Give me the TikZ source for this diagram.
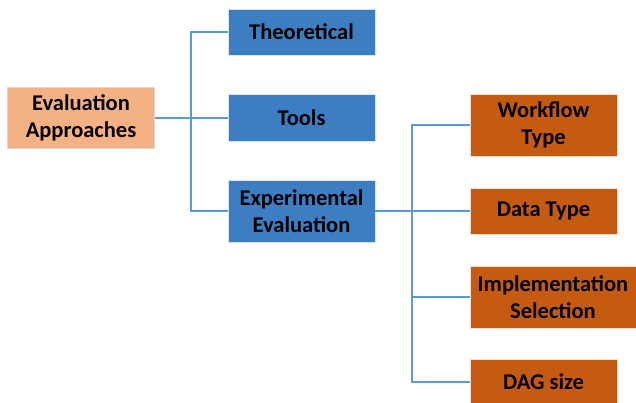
\documentclass[tikz,border=0pt]{standalone}
\usepackage{fontspec}
\setmainfont{Carlito}
\usepackage{tikz}

\definecolor{rootfill}{HTML}{F4B183}
\definecolor{branchfill}{HTML}{3D7DC2}
\definecolor{leaffill}{HTML}{C55A11}
\definecolor{linkcol}{HTML}{5B9BD5}

\begin{document}
\begin{tikzpicture}[
      x=1pt, y=-1pt,
      box/.style={inner sep=0pt,align=center,text=black,
        font=\fontsize{22.5}{26.5}\selectfont\bfseries},
      root/.style={box,fill=rootfill,draw=black!15,line width=0.8pt,
        minimum width=147pt,minimum height=61pt},
      branch/.style={box,fill=branchfill,draw=white!80!branchfill,line width=0.8pt,
        minimum width=147pt},
      leaf/.style={box,fill=leaffill,draw=white!80!leaffill,line width=0.8pt,
        minimum width=147pt},
      link/.style={linkcol,line width=1.2pt}
    ]
    \useasboundingbox (0,0) rectangle (636,403);
    % Draw the root.
    \node[root] (approach) at (81,118) {Evaluation\\Approaches};
    % Draw the first level.
    \node[branch,minimum height=46pt] (theo) at (301.5,32) {Theoretical};
    \node[branch,minimum height=47pt] (tools) at (301.5,118) {Tools};
    \node[branch,minimum height=62pt] (exper) at (301.5,211) {Experimental\\Evaluation};
    % Draw the second level.
    \node[leaf,minimum height=62pt] (wftype) at (543.5,125) {Workflow\\Type};
    \node[leaf,minimum height=46pt] (dtype) at (543.5,211) {Data Type};
    \node[leaf,minimum height=62pt,minimum width=166pt] (impl) at (553,297) {Implementation\\Selection};
    \node[leaf,minimum height=46pt] (dag) at (543.5,382) {DAG size};
    % Draw the links.
    \coordinate (split1) at (191,118);
    \coordinate (split2) at (412,211);
    \draw[link] (approach.east) -- (split1);
    \draw[link] (split1) |- (theo.west);
    \draw[link] (split1) -- (tools.west);
    \draw[link] (split1) |- (exper.west);
    \draw[link] (exper.east) -- (split2);
    \draw[link] (split2) |- (wftype.west);
    \draw[link] (split2) -- (dtype.west);
    \draw[link] (split2) |- (impl.west);
    \draw[link] (split2) |- (dag.west);
\end{tikzpicture}
\end{document}
